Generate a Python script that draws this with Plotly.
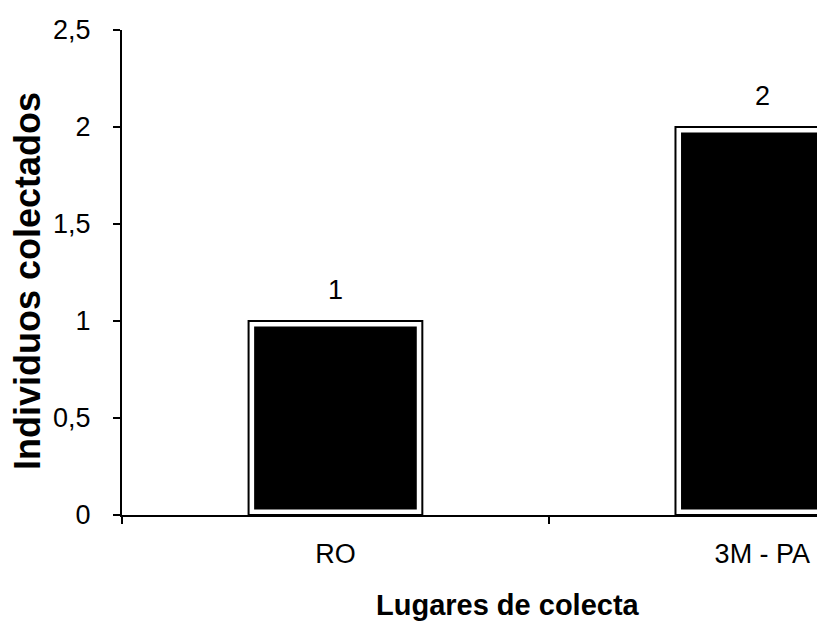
import plotly.graph_objects as go

categories = ["RO", "3M - PA"]
values = [1, 2]
y_ticks = [0, 0.5, 1, 1.5, 2, 2.5]
y_title = "Individuos colectados"
x_title = "Lugares de colecta"

bar_w = 0.407
pad_x = 0.013
pad_y = 0.028

fig = go.Figure()
# outer outline (white fill with black edge)
fig.add_trace(go.Bar(x=categories, y=values, width=bar_w,
                     marker=dict(color="white", line=dict(color="black", width=2)),
                     showlegend=False, hoverinfo="skip"))
# inner black fill
fig.add_trace(go.Bar(x=categories, y=[v - 2 * pad_y for v in values], base=pad_y,
                     width=bar_w - 2 * pad_x,
                     marker=dict(color="black", line=dict(width=0)),
                     showlegend=False, hoverinfo="skip"))

for c, v in zip(categories, values):
    fig.add_annotation(x=c, y=v, text=str(v), showarrow=False, yanchor="bottom",
                       yshift=14, font=dict(size=27, color="black"))

fig.add_annotation(xref="paper", yref="paper", x=0.555, y=-0.186, text=f"<b>{x_title}</b>",
                   xanchor="center", yanchor="middle",
                   showarrow=False, font=dict(size=29, color="black"))
fig.add_annotation(xref="paper", yref="paper", x=-0.137, y=0.482, text=f"<b>{y_title}</b>",
                   xanchor="center", yanchor="middle",
                   textangle=-90, showarrow=False, font=dict(size=36, color="black"))

fig.update_layout(
    width=817, height=625,
    margin=dict(l=122, r=0, t=30, b=110),
    plot_bgcolor="white", paper_bgcolor="white",
    barmode="overlay",
    separators=",.",
    font=dict(family="Liberation Sans, Arial, sans-serif", size=27, color="black"),
    xaxis=dict(type="category", range=[-0.5, 1.128], showline=True, linecolor="black",
               linewidth=2, ticks="outside", tickson="boundaries", ticklen=7,
               tickcolor="black", tickwidth=2, showgrid=False, ticklabelstandoff=14,
               tickfont=dict(size=27)),
    yaxis=dict(range=[0, 2.5], tickvals=y_ticks, showline=True, linecolor="black",
               linewidth=2, ticks="outside", ticklen=7, tickcolor="black", tickwidth=2,
               showgrid=False, zeroline=False, ticklabelstandoff=17,
               tickfont=dict(size=27)),
)

fig.write_html("out.html")
